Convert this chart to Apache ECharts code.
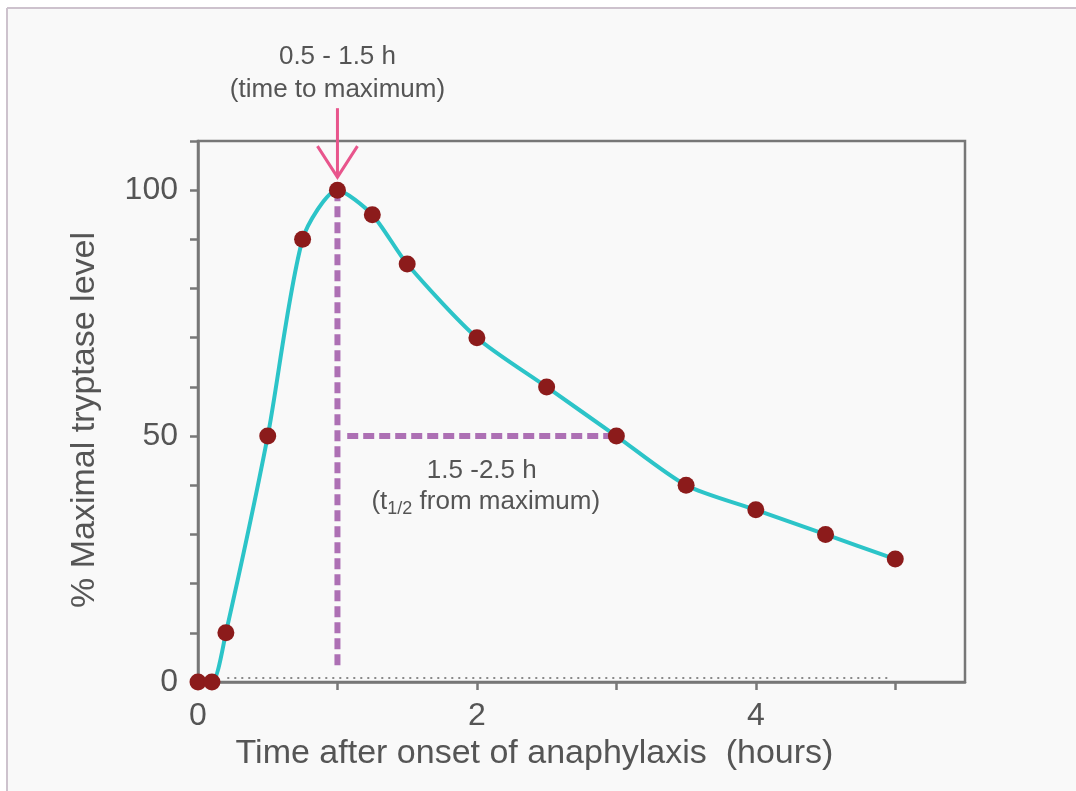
<!DOCTYPE html>
<html>
<head>
<meta charset="utf-8">
<script src="https://cdn.jsdelivr.net/npm/echarts@6/dist/echarts.min.js"></script>
<style>
html,body{margin:0;padding:0;background:#fff;}
#main{width:1076px;height:791px;}
</style>
</head>
<body>
<div id="main"></div>
<script>
// ---- data ----
const times  = [0, 0.1, 0.2, 0.5, 0.75, 1, 1.25, 1.5, 2, 2.5, 3, 3.5, 4, 4.5, 5];
const levels = [0, 0,   10,  50,  90,   100, 95,  85,  70, 60,  50, 40,  35, 30,  25];
const xTicks = [0, 1, 2, 3, 4, 5];
const xLabels = [0, 2, 4];
const yTicks = [0, 10, 20, 30, 40, 50, 60, 70, 80, 90, 100, 110];
const yLabels = [0, 50, 100];
const peak = [1, 100];
const halfStart = [1.07, 50];
const halfEnd = [3, 50];
const peakLineEnd = [1, 2.7];
const baselineStart = [0.21, 0.8];
const baselineEnd = [4.97, 0.8];

const pts = times.map((t, i) => [t, levels[i]]);
const TXT = '#555';
const AX = '#777';
const FONT = 'Liberation Sans, Arial, sans-serif';

const chart = echarts.init(document.getElementById('main'));
chart.setOption({
  backgroundColor: '#fff',
  animation: false,
  textStyle: {fontFamily: FONT},
  grid: {left: 198, right: 111, top: 141, bottom: 109, show: true,
         borderColor: AX, borderWidth: 2.5, backgroundColor: 'transparent'},
  xAxis: {
    type: 'value', min: 0, max: 5.5,
    name: 'Time after onset of anaphylaxis  (hours)',
    nameLocation: 'middle', nameGap: 55,
    nameTextStyle: {fontSize: 34, color: TXT, fontFamily: FONT, padding: [0, 94, 0, 0]},
    axisLine: {lineStyle: {color: AX, width: 2.5}},
    axisTick: {show: true, length: 8, customValues: xTicks, lineStyle: {color: AX, width: 2.5}},
    axisLabel: {customValues: xLabels, fontSize: 32, color: TXT, margin: 18, fontFamily: FONT},
    splitLine: {show: false}
  },
  yAxis: {
    type: 'value', min: 0, max: 110,
    name: '% Maximal tryptase level',
    nameLocation: 'middle', nameGap: 96,
    nameTextStyle: {fontSize: 34, color: TXT, fontFamily: FONT, padding: [0, 17, 0, 0]},
    axisLine: {lineStyle: {color: AX, width: 2.5}},
    axisTick: {show: true, length: 8, customValues: yTicks, lineStyle: {color: AX, width: 2.5}},
    axisLabel: {customValues: yLabels, fontSize: 32, color: TXT, margin: 20, fontFamily: FONT},
    splitLine: {show: false}
  },
  series: [
    {
      type: 'line', data: [baselineStart, baselineEnd], symbol: 'none', silent: true,
      lineStyle: {color: '#8a8a8a', width: 2, type: [2, 5]}, z: 1
    },
    {
      type: 'line', data: [peak, peakLineEnd], symbol: 'none', silent: true,
      lineStyle: {color: '#ad70b4', width: 6, type: [11, 5]}, z: 2
    },
    {
      type: 'line', data: [halfStart, halfEnd], symbol: 'none', silent: true,
      lineStyle: {color: '#ad70b4', width: 6, type: [11, 5]}, z: 2
    },
    {
      type: 'line', data: pts, smooth: 0.25,
      symbol: 'circle', symbolSize: 17,
      itemStyle: {color: '#8c1b1b'},
      lineStyle: {color: '#2cc4c8', width: 4},
      z: 5
    }
  ]
});

function px(p){ return chart.convertToPixel({gridIndex: 0}, p); }
const pk = px(peak);
const hs = px(halfStart), he = px(halfEnd);
const tipY = pk[1] - 13;
const annCx = (hs[0] + he[0]) / 2 + 2;
chart.setOption({
  graphic: [
    {type: 'line', shape: {x1: 7, y1: 8, x2: 1076, y2: 8}, style: {stroke: '#cdc2cd', lineWidth: 2}, z: 0},
    {type: 'line', shape: {x1: 7, y1: 8, x2: 7, y2: 791}, style: {stroke: '#cdc2cd', lineWidth: 2}, z: 0},
    {type: 'rect', shape: {x: 8, y: 9, width: 1068, height: 782}, style: {fill: '#f9f9f9'}, z: -10, silent: true},
    {type: 'line', shape: {x1: pk[0], y1: pk[1] - 82, x2: pk[0], y2: tipY}, style: {stroke: '#e8558c', lineWidth: 3}},
    {type: 'polyline', shape: {points: [[pk[0] - 20, tipY - 31], [pk[0], tipY], [pk[0] + 20, tipY - 31]]},
     style: {stroke: '#e8558c', lineWidth: 3, fill: null}},
    {type: 'text', x: pk[0], y: 57, style: {text: '0.5 - 1.5 h', fontSize: 26, fill: TXT, align: 'center', verticalAlign: 'middle', fontFamily: FONT}},
    {type: 'text', x: pk[0], y: 90, style: {text: '(time to maximum)', fontSize: 26, fill: TXT, align: 'center', verticalAlign: 'middle', fontFamily: FONT}},
    {type: 'text', x: annCx - 2, y: hs[1] + 35, style: {text: '1.5 -2.5 h', fontSize: 26, fill: TXT, align: 'center', verticalAlign: 'middle', fontFamily: FONT}},
    {type: 'text', x: annCx + 2, y: hs[1] + 66, style: {
      text: '(t{sub|1/2} from maximum)', fontSize: 26, fill: TXT, align: 'center', verticalAlign: 'middle', fontFamily: FONT,
      rich: {sub: {fontSize: 18, fill: TXT, padding: [14, 0, 0, 0], fontFamily: FONT}}
    }}
  ]
});
</script>
</body>
</html>
